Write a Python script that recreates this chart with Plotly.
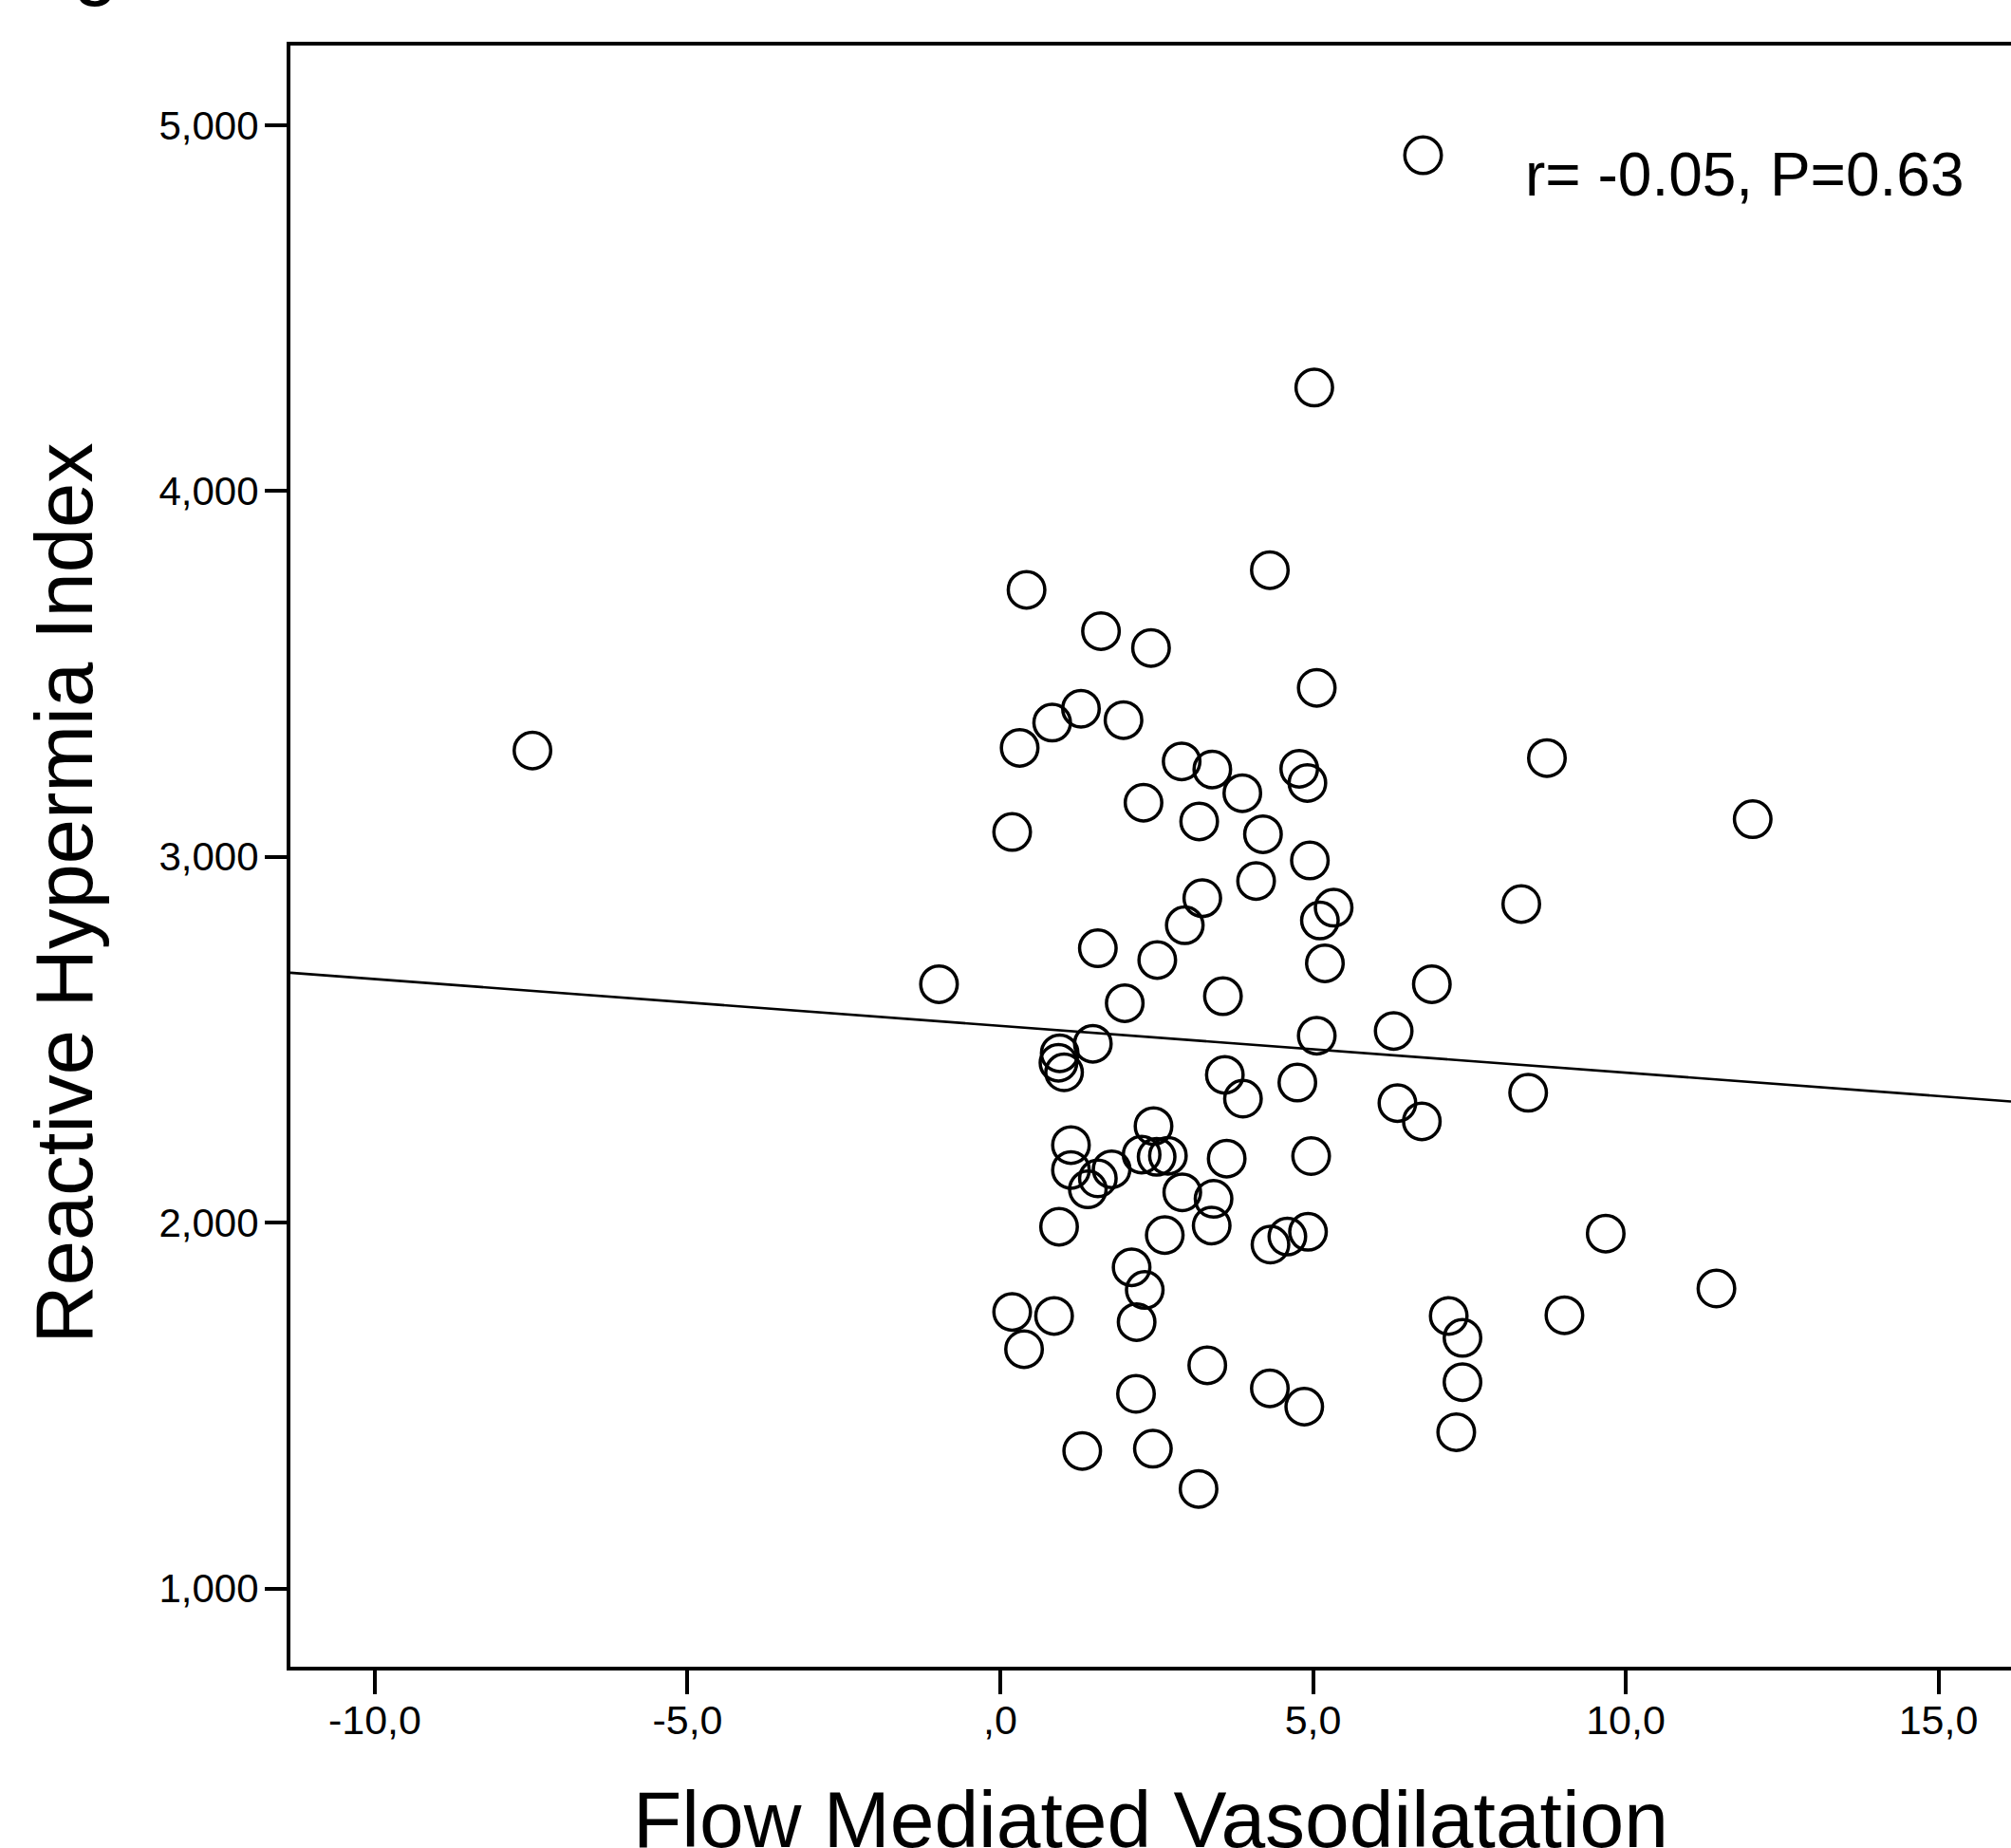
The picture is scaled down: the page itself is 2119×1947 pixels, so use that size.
import plotly.graph_objects as go

# Data
fmd = [6.76, 5.02, 4.31, 0.42, 1.61, 2.41, 5.06, 1.29, 1.97, 0.83,
       -7.48, 0.31, 8.74, 2.90, 3.39, 4.78, 4.91, 3.87, 2.29, 12.03,
       3.18, 0.19, 4.20, 4.95, 4.09, 3.23, 8.33, 5.33, 5.11, 2.95,
       1.56, 2.51, 5.19, -0.98, 6.90, 3.56, 1.99, 6.29, 5.06, 1.48,
       0.95, 0.93, 1.02, 3.59, 4.75, 8.44, 3.88, 6.35, 6.74, 2.45,
       1.13, 2.26, 2.50, 2.68, 4.97, 3.62, 1.13, 1.78, 1.56, 1.40,
       2.91, 3.41, 3.38, 0.94, 2.63, 4.92, 4.59, 4.32, 9.68, 2.10,
       2.31, 11.45, 0.19, 0.86, 7.17, 9.02, 2.18, 7.39, 0.38, 3.31,
       7.39, 4.31, 2.17, 4.86, 7.29, 1.31, 2.44, 3.17]
rhi = [4918, 4283, 3784, 3730, 3617, 3571, 3462, 3405, 3374, 3367,
       3291, 3298, 3270, 3261, 3239, 3241, 3202, 3174, 3148, 3103,
       3097, 3068, 3062, 2990, 2934, 2887, 2871, 2861, 2826, 2813,
       2750, 2718, 2709, 2652, 2652, 2619, 2600, 2524, 2511, 2489,
       2463, 2437, 2411, 2404, 2383, 2355, 2339, 2327, 2277, 2264,
       2212, 2186, 2180, 2183, 2182, 2175, 2144, 2146, 2121, 2091,
       2083, 2065, 1992, 1989, 1966, 1975, 1962, 1940, 1970, 1878,
       1816, 1820, 1756, 1745, 1745, 1747, 1728, 1685, 1654, 1610,
       1564, 1547, 1532, 1497, 1427, 1376, 1382, 1272]

# Fit line
fit_intercept = 2538
fit_slope = -12.8
x_range = [-11.35, 16.16]
y_range = [786, 5218]

x_tickvals = [-10, -5, 0, 5, 10, 15]
x_ticktext = ["-10,0", "-5,0", ",0", "5,0", "10,0", "15,0"]
y_tickvals = [1000, 2000, 3000, 4000, 5000]
y_ticktext = ["1,000", "2,000", "3,000", "4,000", "5,000"]

annotation_text = "r= -0.05, P=0.63"
x_title = "Flow Mediated Vasodilatation"
y_title = "Reactive Hypermia Index"

FONT = "Liberation Sans, Arial, Helvetica, sans-serif"

fit_x = x_range
fit_y = [fit_intercept + fit_slope * v for v in fit_x]

fig = go.Figure()
fig.add_trace(go.Scatter(
    x=fit_x, y=fit_y, mode="lines",
    line=dict(color="black", width=2.6),
    showlegend=False, hoverinfo="skip"))
fig.add_trace(go.Scatter(
    x=fmd, y=rhi, mode="markers",
    marker=dict(symbol="circle-open", size=38.5, color="black",
                line=dict(width=3.5, color="black")),
    showlegend=False))

W, H = 2119, 1947
ml, mt, mr = 306, 48, 0
plot_bottom = 1756.5
mb = H - plot_bottom
ph = plot_bottom - mt

fig.update_layout(
    width=W, height=H,
    margin=dict(l=ml, r=mr, t=mt, b=mb, pad=0),
    paper_bgcolor="white", plot_bgcolor="white",
    font=dict(family=FONT, color="black", size=42),
    xaxis=dict(range=x_range, showgrid=False, zeroline=False,
               showline=True, linecolor="black", linewidth=4, mirror=True,
               ticks="outside", ticklen=25, tickwidth=3.5, tickcolor="black",
               tickvals=x_tickvals, ticktext=x_ticktext,
               tickfont=dict(size=43, family=FONT, color="black"),
               ticklabelstandoff=-10),
    yaxis=dict(range=y_range, showgrid=False, zeroline=False,
               showline=True, linecolor="black", linewidth=4, mirror=False,
               ticks="outside", ticklen=23, tickwidth=3.5, tickcolor="black",
               tickvals=y_tickvals, ticktext=y_ticktext,
               tickfont=dict(size=42, family=FONT, color="black"),
               ticklabelstandoff=-2),
)

annotations = [
    dict(text=annotation_text, xref="paper", yref="paper",
         x=(1838 - ml) / (W - ml), y=(plot_bottom - 184) / ph,
         xanchor="center", yanchor="middle", showarrow=False,
         font=dict(size=64, family=FONT, color="black")),
    dict(text=x_title, xref="paper", yref="paper",
         x=0.5, y=0, yshift=-(1917 - plot_bottom),
         xanchor="center", yanchor="middle", showarrow=False,
         font=dict(size=84, family=FONT, color="black")),
    dict(text=y_title, xref="paper", yref="paper",
         x=0, xshift=68 - ml, y=(plot_bottom - 941) / ph, textangle=-90,
         xanchor="center", yanchor="middle", showarrow=False,
         font=dict(size=85, family=FONT, color="black")),
    dict(text="g", xref="paper", yref="paper",
         x=0, xshift=100 - ml, y=1, yshift=mt + 41,
         xanchor="center", yanchor="middle", showarrow=False,
         font=dict(size=85, family=FONT, color="black")),
]
fig.update_layout(annotations=annotations)

fig.write_html("out.html",
               config={"displayModeBar": False},
               post_script="document.body.style.margin='0';"
                           "document.body.style.padding='0';")
